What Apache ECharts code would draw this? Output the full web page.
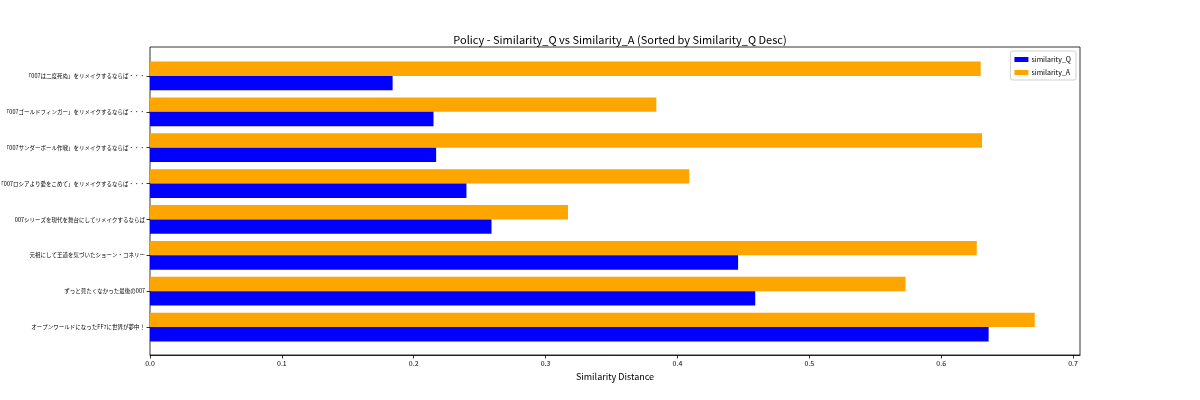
<!DOCTYPE html>
<html>
<head>
<meta charset="utf-8">
<script src="https://cdn.jsdelivr.net/npm/echarts@6/dist/echarts.min.js"></script>
<style>
  html, body { margin: 0; padding: 0; background: #fff; }
  #chart { width: 1200px; height: 400px; }
</style>
</head>
<body>
<div id="chart"></div>
<script>
// --- Data (bottom to top, sorted by similarity_Q desc) ---
const categories = [
    'オープンワールドになったFF7に世界が夢中！',
    'ずっと見たくなかった最後の007',
    '元祖にして王道を気づいたショーン・コネリー',
    '007シリーズを現代を舞台にしてリメイクするならば',
    '「007ロシアより愛をこめて」をリメイクするならば・・・',
    '「007サンダーボール作戦」をリメイクするならば・・・',
    '「007ゴールドフィンガー」をリメイクするならば・・・',
    '「007は二度死ぬ」をリメイクするならば・・・'
];
const similarityQ = [0.636, 0.459, 0.446, 0.259, 0.240, 0.217, 0.215, 0.184];
const similarityA = [0.671, 0.573, 0.627, 0.317, 0.409, 0.631, 0.384, 0.630];
const xTicks = [0, 0.1, 0.2, 0.3, 0.4, 0.5, 0.6, 0.7];
const xMax = 0.7053;

const FONT = '"Noto Sans CJK JP", "Noto Sans", sans-serif';

const chart = echarts.init(document.getElementById('chart'), null, { renderer: 'canvas' });

chart.setOption({
    animation: false,
    title: {
        text: 'Policy - Similarity_Q vs Similarity_A (Sorted by Similarity_Q Desc)',
        left: 615, top: 29, textAlign: 'center',
        textStyle: { fontFamily: FONT, fontSize: 11, fontWeight: 'normal', color: '#000' }
    },
    legend: {
        orient: 'vertical',
        right: 124, top: 51,
        data: ['similarity_Q', 'similarity_A'],
        itemWidth: 14, itemHeight: 5, itemGap: 6,
        icon: 'rect',
        padding: [5, 5, 4, 4],
        borderColor: '#d0d0d0', borderWidth: 1, borderRadius: 2,
        backgroundColor: 'rgba(255,255,255,0.8)',
        textStyle: { fontFamily: FONT, fontSize: 7, color: '#000', padding: [0, 0, 0, -2] }
    },
    // grid 0: the frame and x axis; grid 1: the bars (matplotlib leaves margins around bars)
    grid: [
        { left: 150, top: 47, width: 930, height: 308, show: true, borderColor: '#000', borderWidth: 0.8,
          outerBoundsMode: 'none', containLabel: false },
        { left: 150, top: 58, width: 930, height: 287, outerBoundsMode: 'none', containLabel: false }
    ],
    xAxis: [
        {
            gridIndex: 0, type: 'value', min: 0, max: xMax, interval: 0.1,
            name: 'Similarity Distance', nameLocation: 'middle', nameGap: 12,
            nameTextStyle: { fontFamily: FONT, fontSize: 9, color: '#000' },
            axisLine: { show: true, lineStyle: { color: '#000', width: 0.8 } },
            axisTick: { show: true, length: 3.5, lineStyle: { color: '#000', width: 0.8 }, customValues: xTicks },
            axisLabel: { fontFamily: FONT, fontSize: 7, color: '#000', margin: 5, customValues: xTicks,
                         formatter: v => v.toFixed(1) },
            splitLine: { show: false }
        },
        {
            gridIndex: 1, type: 'value', min: 0, max: xMax, show: false
        }
    ],
    yAxis: [
        { gridIndex: 0, type: 'value', show: false },
        {
            gridIndex: 1, type: 'category', data: categories,
            axisLine: { show: false },
            axisTick: { show: true, alignWithLabel: true, length: 3.5, inside: false,
                        lineStyle: { color: '#000', width: 0.8 } },
            axisLabel: { fontFamily: FONT, fontSize: 5.5, color: '#000', margin: 5 },
            splitLine: { show: false }
        }
    ],
    // A first so it sits above Q inside each band
    series: [
        {
            name: 'similarity_A', type: 'bar', xAxisIndex: 1, yAxisIndex: 1,
            data: similarityA, barGap: '0%', barCategoryGap: '20%',
            itemStyle: { color: '#ffa500' }
        },
        {
            name: 'similarity_Q', type: 'bar', xAxisIndex: 1, yAxisIndex: 1,
            data: similarityQ, barGap: '0%', barCategoryGap: '20%',
            itemStyle: { color: '#0000ff' }
        }
    ]
});
</script>
</body>
</html>
